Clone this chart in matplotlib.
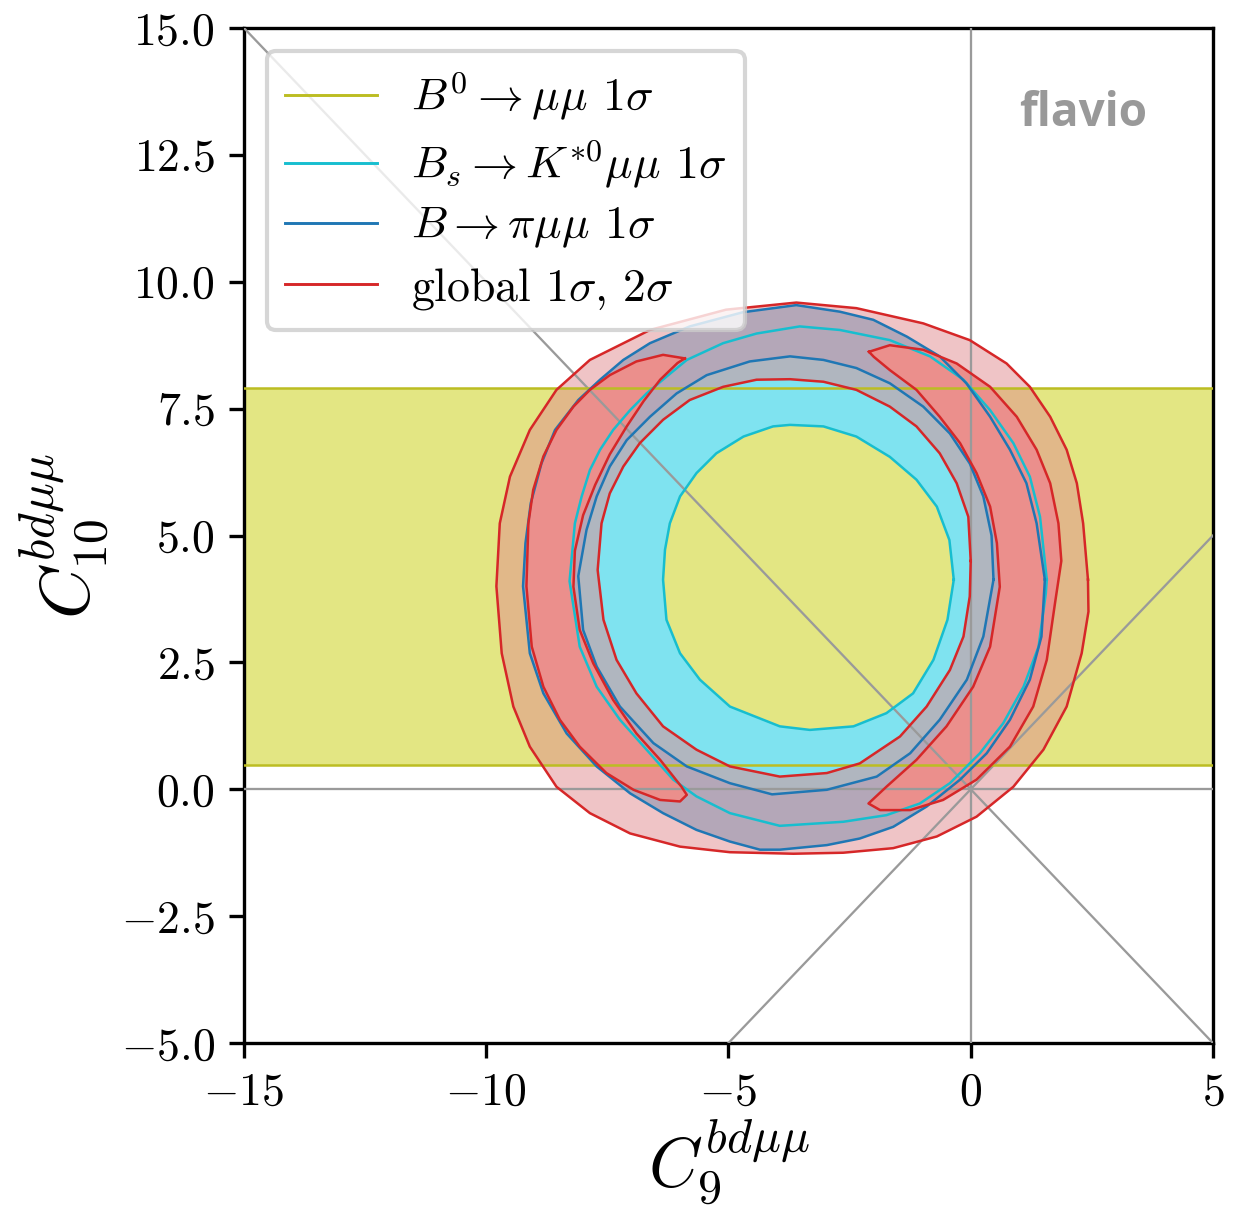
import numpy as np
import matplotlib
matplotlib.use("Agg")
import matplotlib.pyplot as plt
from matplotlib.lines import Line2D
from matplotlib.path import Path
from matplotlib.patches import PathPatch

# B0 -> mumu 1 sigma: horizontal band in C10
band_lo = 0.48
band_hi = 7.91

# Bs -> K*0 mumu 1 sigma ring, contour points (C9, C10)
cyan_outer = [(1.57, 4.13), (1.43, 5.37), (1.22, 6.16), (0.88, 6.82), (0.40, 7.47),
              (-0.15, 8.07), (-0.84, 8.53), (-1.67, 8.85), (-2.70, 9.05), (-3.53, 9.12),
              (-4.42, 8.98), (-5.11, 8.79), (-5.86, 8.46), (-6.28, 8.13), (-6.69, 7.80),
              (-7.03, 7.47), (-7.38, 7.08), (-7.65, 6.69), (-7.86, 6.29), (-8.03, 5.77),
              (-8.17, 5.24), (-8.28, 4.10), (-8.07, 2.81), (-7.72, 2.02), (-7.24, 1.37),
              (-6.69, 0.78), (-6.14, 0.19), (-5.66, -0.14), (-4.97, -0.47), (-3.94, -0.72),
              (-2.63, -0.64), (-1.74, -0.51), (-1.05, -0.28), (-0.43, 0.12), (0.19, 0.71),
              (0.67, 1.30), (1.09, 2.02), (1.40, 2.81), (1.55, 3.86)]
cyan_inner = [(-0.35, 4.13), (-0.44, 4.91), (-0.70, 5.57), (-1.12, 6.10), (-1.67, 6.55),
              (-2.36, 6.95), (-3.04, 7.15), (-3.73, 7.18), (-4.08, 7.15), (-4.69, 6.95),
              (-5.25, 6.62), (-5.66, 6.23), (-6.00, 5.77), (-6.21, 5.24), (-6.31, 4.72),
              (-6.35, 4.13), (-6.28, 3.34), (-6.00, 2.68), (-5.59, 2.16), (-4.97, 1.63),
              (-3.94, 1.24), (-3.32, 1.17), (-2.42, 1.24), (-1.74, 1.50), (-1.19, 1.89),
              (-0.77, 2.55), (-0.48, 3.34)]

# B -> pi mumu 1 sigma ring
blue_outer = [(1.53, 4.13), (1.36, 5.24), (1.15, 6.03), (0.81, 6.69), (0.40, 7.34),
              (-0.09, 8.00), (-0.64, 8.53), (-1.32, 8.92), (-2.01, 9.25), (-2.70, 9.41),
              (-3.60, 9.54), (-4.70, 9.40), (-5.80, 9.12), (-6.62, 8.79), (-7.17, 8.46),
              (-7.65, 8.07), (-8.10, 7.67), (-8.58, 7.08), (-8.86, 6.42), (-9.08, 5.64),
              (-9.19, 4.85), (-9.24, 4.00), (-9.10, 2.68), (-8.82, 1.89), (-8.34, 1.10),
              (-7.72, 0.45), (-7.03, -0.08), (-6.35, -0.47), (-5.66, -0.80), (-4.97, -1.03),
              (-4.35, -1.19), (-3.94, -1.19), (-2.97, -1.10), (-2.29, -0.97), (-1.60, -0.74),
              (-0.91, -0.34), (-0.22, 0.19), (0.33, 0.71), (0.81, 1.37), (1.22, 2.16),
              (1.46, 3.01)]
blue_inner = [(0.47, 4.13), (0.43, 5.00), (0.26, 5.77), (-0.02, 6.42), (-0.43, 7.01),
              (-0.98, 7.54), (-1.67, 8.00), (-2.36, 8.30), (-3.04, 8.46), (-3.73, 8.53),
              (-4.56, 8.43), (-5.45, 8.16), (-6.07, 7.80), (-6.62, 7.34), (-7.10, 6.88),
              (-7.45, 6.36), (-7.72, 5.77), (-7.93, 5.11), (-8.10, 4.20), (-8.00, 3.14),
              (-7.72, 2.42), (-7.24, 1.63), (-6.55, 0.91), (-5.86, 0.45), (-4.97, 0.12),
              (-4.10, -0.10), (-2.97, -0.01), (-1.94, 0.25), (-1.25, 0.71), (-0.64, 1.37),
              (-0.08, 2.16), (0.26, 3.01)]

# global fit: 2 sigma ring and the two 1 sigma crescents
global_2s_outer = [(2.42, 4.13), (2.32, 5.24), (2.19, 6.03), (1.98, 6.69), (1.64, 7.34),
                   (1.22, 7.93), (0.74, 8.39), (-0.02, 8.85), (-0.98, 9.18), (-2.36, 9.48),
                   (-3.60, 9.59), (-5.05, 9.45), (-6.62, 9.05), (-7.86, 8.46), (-8.55, 7.87),
                   (-9.10, 7.08), (-9.51, 6.16), (-9.72, 5.24), (-9.79, 4.00), (-9.68, 2.68),
                   (-9.44, 1.63), (-9.10, 0.84), (-8.55, 0.05), (-7.86, -0.47), (-7.03, -0.87),
                   (-6.00, -1.13), (-4.97, -1.24), (-3.66, -1.27), (-2.63, -1.25), (-1.60, -1.16),
                   (-0.70, -0.93), (0.12, -0.54), (0.88, 0.05), (1.50, 0.78), (1.98, 1.63),
                   (2.29, 2.68), (2.43, 3.50)]
global_2s_inner = [(0.00, 4.50), (-0.05, 5.37), (-0.29, 6.03), (-0.64, 6.62), (-1.12, 7.15),
                   (-1.67, 7.54), (-2.36, 7.87), (-3.04, 8.03), (-3.73, 8.08), (-4.42, 8.07),
                   (-5.11, 7.93), (-5.80, 7.67), (-6.35, 7.28), (-6.83, 6.82), (-7.17, 6.36),
                   (-7.45, 5.83), (-7.62, 5.24), (-7.70, 4.32), (-7.58, 3.34), (-7.31, 2.55),
                   (-6.90, 1.89), (-6.35, 1.24), (-5.66, 0.78), (-4.97, 0.45), (-3.94, 0.25),
                   (-2.97, 0.32), (-2.29, 0.51), (-1.46, 1.04), (-0.91, 1.63), (-0.43, 2.35),
                   (-0.15, 3.01), (-0.02, 3.80)]
global_1s_left = [(-5.90, 8.49), (-6.35, 8.56), (-6.90, 8.43), (-7.45, 8.16), (-7.86, 7.87),
                  (-8.20, 7.54), (-8.55, 7.08), (-8.82, 6.56), (-9.03, 5.90), (-9.13, 5.24),
                  (-9.17, 4.00), (-9.06, 2.81), (-8.82, 2.02), (-8.48, 1.37), (-8.07, 0.84),
                  (-7.52, 0.32), (-6.96, -0.01), (-6.41, -0.21), (-6.00, -0.24), (-5.86, -0.11),
                  (-5.97, 0.05), (-6.41, 0.58), (-6.90, 1.10), (-7.38, 1.76), (-7.79, 2.48),
                  (-8.07, 3.14), (-8.20, 3.99), (-8.17, 4.70), (-8.00, 5.40), (-7.75, 6.00),
                  (-7.45, 6.60), (-7.10, 7.15), (-6.75, 7.65), (-6.41, 8.07), (-6.05, 8.40)]
global_1s_right = [(-2.10, 8.62), (-1.67, 8.75), (-0.98, 8.66), (-0.29, 8.39), (0.40, 7.93),
                   (0.95, 7.34), (1.36, 6.69), (1.64, 6.03), (1.81, 5.24), (1.87, 4.50),
                   (1.74, 3.67), (1.57, 2.55), (1.29, 1.63), (0.81, 0.84), (0.12, 0.19),
                   (-0.57, -0.21), (-1.25, -0.41), (-1.87, -0.41), (-2.11, -0.28), (-1.74, 0.05),
                   (-1.12, 0.58), (-0.50, 1.24), (0.05, 2.02), (0.40, 2.81), (0.60, 3.99),
                   (0.54, 4.85), (0.40, 5.57), (0.12, 6.23), (-0.22, 6.82), (-0.64, 7.34),
                   (-1.12, 7.87), (-1.67, 8.26), (-2.00, 8.52)]

labels = [r"$B^0 \to \mu\mu$ $1\sigma$",
          r"$B_s \to K^{*0}\mu\mu$ $1\sigma$",
          r"$B \to \pi\mu\mu$ $1\sigma$",
          r"global $1\sigma$, $2\sigma$"]
line_colors = ["#bcbd22", "#17becf", "#1f77b4", "#d62728"]

plt.rcParams["font.family"] = "serif"
plt.rcParams["font.serif"] = ["cmr10"]
plt.rcParams["mathtext.fontset"] = "cm"
plt.rcParams["axes.formatter.use_mathtext"] = True
plt.rcParams["font.size"] = 11


def signed_area(pts):
    x, y = pts[:, 0], pts[:, 1]
    return 0.5 * np.sum(x * np.roll(y, -1) - np.roll(x, -1) * y)


def region(outer, inner=None):
    """Closed region; the optional inner curve is cut out as a hole."""
    verts, codes = [], []
    for i, ring in enumerate([outer, inner]):
        if ring is None:
            continue
        pts = np.asarray(ring, dtype=float)
        if (signed_area(pts) > 0) != (i == 0):
            pts = pts[::-1]
        verts.extend(pts.tolist() + [pts[0].tolist()])
        codes.extend([Path.MOVETO] + [Path.LINETO] * (len(pts) - 1) + [Path.CLOSEPOLY])
    return Path(verts, codes)


def outline(ax, ring, color):
    pts = np.asarray(ring, dtype=float)
    pts = np.vstack([pts, pts[:1]])
    ax.plot(pts[:, 0], pts[:, 1], color=color, lw=0.6, zorder=5, solid_joinstyle="round")


fig = plt.figure(figsize=(4.13, 4.04), dpi=300)
ax = fig.add_axes([0.1969, 0.1394, 0.7821, 0.8375])

# fills
ax.axhspan(band_lo, band_hi, color="#e3e683", lw=0, zorder=1)
ax.add_patch(PathPatch(region(cyan_outer, cyan_inner), fc="#7fe3f0", ec="none", zorder=2))
ax.add_patch(PathPatch(region(blue_outer, blue_inner), fc="#87c5e3", ec="none", zorder=2.1))
ax.add_patch(PathPatch(region(global_2s_outer, global_2s_inner), fc="#e18b8f", ec="none",
                       alpha=0.5, zorder=2.2))
ax.add_patch(PathPatch(region(global_1s_left), fc="#eb8f8c", ec="none", zorder=2.3))
ax.add_patch(PathPatch(region(global_1s_right), fc="#eb8f8c", ec="none", zorder=2.3))

# reference lines through the SM point
for slope in (1, -1):
    ax.axline((0, 0), slope=slope, color="#9a9a9a", lw=0.55, zorder=4)
ax.axhline(0, color="#9a9a9a", lw=0.55, zorder=4)
ax.axvline(0, color="#9a9a9a", lw=0.55, zorder=4)

# contour lines
ax.axhline(band_lo, color=line_colors[0], lw=0.6, zorder=5)
ax.axhline(band_hi, color=line_colors[0], lw=0.6, zorder=5)
outline(ax, cyan_outer, line_colors[1])
outline(ax, cyan_inner, line_colors[1])
outline(ax, blue_outer, line_colors[2])
outline(ax, blue_inner, line_colors[2])
for ring in [global_2s_outer, global_2s_inner, global_1s_left, global_1s_right]:
    outline(ax, ring, line_colors[3])

ax.set_xlim(-15, 5)
ax.set_ylim(-5, 15)
ax.set_xticks([-15, -10, -5, 0, 5])
ax.set_yticks(np.arange(-5, 15.1, 2.5))
ax.set_xlabel(r"$C_9^{bd\mu\mu}$", fontsize=16.5, labelpad=0.5)
ax.set_ylabel(r"$C_{10}^{bd\mu\mu}$", fontsize=17, labelpad=2)

handles = [Line2D([], [], color=c, lw=0.7) for c in line_colors]
leg = ax.legend(handles, labels, loc="upper left", fontsize=11,
                labelspacing=0.33, handletextpad=0.75)
leg.set_zorder(10)

ax.text(0.932, 0.903, "flavio", transform=ax.transAxes, ha="right", va="baseline",
        fontsize=11, color="#999999", fontweight="bold", family="Open Sans", zorder=6)

fig.savefig("out.png", dpi=300)
